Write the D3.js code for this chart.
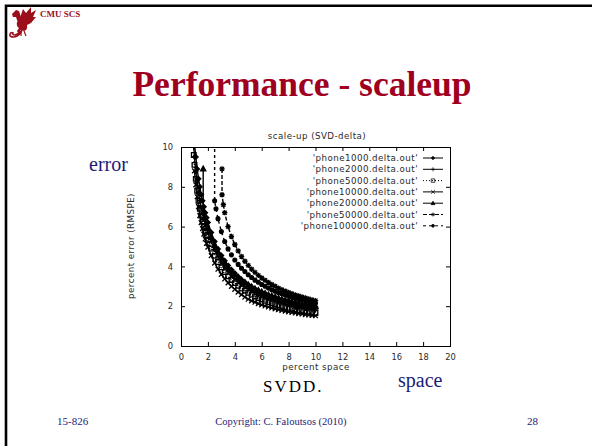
<!DOCTYPE html>
<html>
<head>
<meta charset="utf-8">
<script src="https://cdn.jsdelivr.net/npm/d3@7"></script>
<style>
  body { margin: 0; background: #fff; }
</style>
</head>
<body>
<script>
// legend labels, in plot order
const seriesNames = [
  "'phone1000.delta.out'",
  "'phone2000.delta.out'",
  "'phone5000.delta.out'",
  "'phone10000.delta.out'",
  "'phone20000.delta.out'",
  "'phone50000.delta.out'",
  "'phone100000.delta.out'"
];

// [percent space, percent error]
const phone1000 = [[1.0,10.2],[1.1,9.5],[1.2,8.9],[1.3,8.4],[1.4,8.0],[1.5,7.6],[1.6,7.3],[1.7,7.0],[1.8,6.7],[1.9,6.45],[2.0,6.2],[2.25,5.7],[2.5,5.25],[2.75,4.88],[3.0,4.55],[3.25,4.28],[3.5,4.04],[3.75,3.83],[4.0,3.65],[4.25,3.48],[4.5,3.33],[4.75,3.2],[5.0,3.08],[5.25,2.97],[5.5,2.87],[5.75,2.78],[6.0,2.7],[6.25,2.62],[6.5,2.55],[6.75,2.49],[7.0,2.43],[7.25,2.37],[7.5,2.32],[7.75,2.27],[8.0,2.23],[8.25,2.19],[8.5,2.15],[8.75,2.11],[9.0,2.08],[9.25,2.05],[9.5,2.02],[9.75,1.99],[10.0,1.96]];
const phone2000 = [[0.95,10.0],[1.0,9.5],[1.1,8.8],[1.2,8.2],[1.3,7.7],[1.4,7.3],[1.5,6.95],[1.6,6.65],[1.7,6.37],[1.8,6.12],[1.9,5.9],[2.0,5.7],[2.25,5.25],[2.5,4.85],[2.75,4.52],[3.0,4.23],[3.25,3.98],[3.5,3.76],[3.75,3.57],[4.0,3.4],[4.25,3.25],[4.5,3.11],[4.75,2.99],[5.0,2.88],[5.25,2.78],[5.5,2.69],[5.75,2.6],[6.0,2.53],[6.25,2.46],[6.5,2.39],[6.75,2.33],[7.0,2.27],[7.25,2.22],[7.5,2.17],[7.75,2.12],[8.0,2.08],[8.25,2.04],[8.5,2.0],[8.75,1.96],[9.0,1.93],[9.25,1.9],[9.5,1.87],[9.75,1.84],[10.0,1.81]];
const phone5000 = [[0.95,9.6],[1.0,9.1],[1.1,8.4],[1.2,7.8],[1.3,7.3],[1.4,6.9],[1.5,6.55],[1.6,6.25],[1.7,5.98],[1.8,5.74],[1.9,5.52],[2.0,5.33],[2.25,4.9],[2.5,4.53],[2.75,4.22],[3.0,3.95],[3.25,3.71],[3.5,3.5],[3.75,3.32],[4.0,3.16],[4.25,3.02],[4.5,2.89],[4.75,2.78],[5.0,2.67],[5.25,2.58],[5.5,2.49],[5.75,2.41],[6.0,2.34],[6.25,2.27],[6.5,2.21],[6.75,2.15],[7.0,2.1],[7.25,2.05],[7.5,2.0],[7.75,1.96],[8.0,1.92],[8.25,1.88],[8.5,1.84],[8.75,1.81],[9.0,1.78],[9.25,1.75],[9.5,1.72],[9.75,1.69],[10.0,1.66]];
const phone10000 = [[1.0,8.8],[1.1,8.1],[1.2,7.5],[1.3,7.0],[1.4,6.55],[1.5,6.2],[1.6,5.9],[1.7,5.62],[1.8,5.38],[1.9,5.16],[2.0,4.97],[2.25,4.54],[2.5,4.17],[2.75,3.86],[3.0,3.6],[3.25,3.37],[3.5,3.17],[3.75,3.0],[4.0,2.85],[4.25,2.71],[4.5,2.58],[4.75,2.46],[5.0,2.35],[5.25,2.27],[5.5,2.2],[5.75,2.13],[6.0,2.07],[6.25,2.01],[6.5,1.96],[6.75,1.91],[7.0,1.87],[7.25,1.83],[7.5,1.79],[7.75,1.75],[8.0,1.72],[8.25,1.69],[8.5,1.66],[8.75,1.63],[9.0,1.61],[9.25,1.58],[9.5,1.56],[9.75,1.54],[10.0,1.52]];
const phone20000 = [[1.65,8.9],[1.65,6.7],[1.75,6.45],[1.9,6.1],[2.0,5.9],[2.25,5.45],[2.5,5.05],[2.75,4.72],[3.0,4.43],[3.25,4.18],[3.5,3.96],[3.75,3.77],[4.0,3.6],[4.25,3.45],[4.5,3.31],[4.75,3.19],[5.0,3.08],[5.25,2.98],[5.5,2.88],[5.75,2.8],[6.0,2.72],[6.25,2.65],[6.5,2.58],[6.75,2.52],[7.0,2.46],[7.25,2.4],[7.5,2.35],[7.75,2.3],[8.0,2.26],[8.25,2.22],[8.5,2.18],[8.75,2.14],[9.0,2.1],[9.25,2.07],[9.5,2.04],[9.75,2.01],[10.0,1.98]];
const phone50000 = [[3.05,8.9],[3.05,7.6],[3.15,7.1],[3.25,6.7],[3.5,6.0],[3.75,5.5],[4.0,5.1],[4.25,4.78],[4.5,4.5],[4.75,4.26],[5.0,4.05],[5.25,3.86],[5.5,3.7],[5.75,3.55],[6.0,3.42],[6.25,3.3],[6.5,3.19],[6.75,3.09],[7.0,3.0],[7.25,2.91],[7.5,2.83],[7.75,2.76],[8.0,2.69],[8.25,2.63],[8.5,2.57],[8.75,2.51],[9.0,2.46],[9.25,2.41],[9.5,2.36],[9.75,2.32],[10.0,2.28]];
const phone100000 = [[2.5,10.5],[2.5,7.3],[2.6,6.9],[2.75,6.4],[3.0,5.75],[3.25,5.25],[3.5,4.88],[3.75,4.58],[4.0,4.32],[4.25,4.1],[4.5,3.91],[4.75,3.74],[5.0,3.58],[5.25,3.44],[5.5,3.31],[5.75,3.2],[6.0,3.09],[6.25,3.0],[6.5,2.91],[6.75,2.83],[7.0,2.75],[7.25,2.68],[7.5,2.62],[7.75,2.56],[8.0,2.5],[8.25,2.45],[8.5,2.4],[8.75,2.35],[9.0,2.31],[9.25,2.27],[9.5,2.23],[9.75,2.19],[10.0,2.15]];

const xTicks = [0,2,4,6,8,10,12,14,16,18,20];
const yTicks = [0,2,4,6,8,10];

const allSeries = [phone1000, phone2000, phone5000, phone10000, phone20000, phone50000, phone100000];

// gnuplot-ish line and point styles
const dashes = [null, null, "1,2", null, null, "4,2", "3,3"];
const markers = [
  "M0,-2.3L2.3,0L0,2.3L-2.3,0Z",                 // diamond
  "M-2.7,0H2.7M0,-2.7V2.7",                      // plus
  "M-2.3,-2.3H2.3V2.3H-2.3Z",                    // box
  "M-2.4,-2.4L2.4,2.4M-2.4,2.4L2.4,-2.4",        // cross
  "M0,-2.7L2.6,1.9H-2.6Z",                       // triangle
  "M-2.7,0H2.7M0,-2.7V2.7M-2,-2L2,2M-2,2L2,-2",  // star
  "M-1.9,0A1.9,1.9 0 1,0 1.9,0A1.9,1.9 0 1,0 -1.9,0Z" // dot
];
const filledMarker = [true, false, false, false, true, false, true];

const W = 592, H = 446;
const svg = d3.select("body").append("svg")
  .attr("width", W)
  .attr("height", H);

svg.append("rect").attr("width", W).attr("height", H).attr("fill", "#fff");

// slide frame
svg.append("path")
  .attr("d", "M6,446V5.8H592")
  .attr("fill", "none")
  .attr("stroke", "#000")
  .attr("stroke-width", 2.6);

// CMU logo (rough dragon)
const logo = svg.append("g").attr("fill", "#9b0e1a").attr("stroke", "#9b0e1a");
logo.append("path").attr("stroke", "none")
  .attr("d", "M19,21L23,9L26,13L31,7L31,13L36,10L33,17L36,17L31,23L25,26Z");
logo.append("path").attr("stroke", "none")
  .attr("d", "M12,14L16,10L19,11L21,17L22,22L18,23L16,17L13,17Z");
logo.append("path").attr("stroke", "none")
  .attr("d", "M17,22Q23,20 27,25Q28,30 24,31L21,30L18,33L17,31L19,28Q16,26 17,22Z");
logo.append("path").attr("fill", "none").attr("stroke-width", 1.6)
  .attr("d", "M22,30Q20,36 14,37Q9,37 10,34Q11,32 13,33Q12,35 15,35Q19,34 20,31");
logo.append("path").attr("fill", "none").attr("stroke-width", 1.2)
  .attr("d", "M24,31L26,36M21,31L21,36");

svg.append("text")
  .attr("x", 40).attr("y", 17)
  .attr("font-family", "Liberation Serif")
  .attr("font-weight", "bold")
  .attr("font-size", 9)
  .attr("fill", "#9b0e1a")
  .text("CMU SCS");

svg.append("text")
  .attr("x", 302).attr("y", 96)
  .attr("text-anchor", "middle")
  .attr("font-family", "Liberation Serif")
  .attr("font-weight", "bold")
  .attr("font-size", 35.5)
  .attr("fill", "#a0001f")
  .text("Performance - scaleup");

// chart
const x = d3.scaleLinear().domain([0, 20]).range([181, 450]);
const y = d3.scaleLinear().domain([0, 10]).range([346, 147]);

const chartFont = "DejaVu Sans";
const chartInk = "#2a2a2a";
const chartSpacing = 0.45;

svg.append("defs").append("clipPath").attr("id", "plotclip")
  .append("rect")
  .attr("x", x(0)).attr("y", y(10))
  .attr("width", x(20) - x(0)).attr("height", y(0) - y(10));

function styleAxis(g) {
  g.select(".domain").remove();
  g.selectAll("line").attr("stroke", "#000");
  g.selectAll("text")
    .attr("font-family", chartFont)
    .attr("font-size", 8.3)
    .attr("fill", chartInk);
}

svg.append("g")
  .attr("transform", `translate(0,${y(0)})`)
  .call(d3.axisBottom(x).tickValues(xTicks).tickSize(-4).tickPadding(8))
  .call(styleAxis);
svg.append("g")
  .attr("transform", `translate(0,${y(10)})`)
  .call(d3.axisTop(x).tickValues(xTicks).tickSize(-4).tickFormat(""))
  .call(styleAxis);
svg.append("g")
  .attr("transform", `translate(${x(0)},0)`)
  .call(d3.axisLeft(y).tickValues(yTicks).tickSize(-4).tickPadding(8))
  .call(styleAxis);
svg.append("g")
  .attr("transform", `translate(${x(20)},0)`)
  .call(d3.axisRight(y).tickValues(yTicks).tickSize(-4).tickFormat(""))
  .call(styleAxis);

svg.append("rect")
  .attr("x", x(0) + 0.5).attr("y", y(10) + 0.5)
  .attr("width", x(20) - x(0)).attr("height", y(0) - y(10))
  .attr("fill", "none")
  .attr("stroke", "#000");

svg.append("text")
  .attr("x", 317).attr("y", 139)
  .attr("text-anchor", "middle")
  .attr("font-family", chartFont).attr("font-size", 8.7)
  .attr("letter-spacing", chartSpacing)
  .attr("fill", chartInk)
  .text("scale-up (SVD-delta)");

svg.append("text")
  .attr("x", 316).attr("y", 370)
  .attr("text-anchor", "middle")
  .attr("font-family", chartFont).attr("font-size", 8.7)
  .attr("letter-spacing", chartSpacing)
  .attr("fill", chartInk)
  .text("percent space");

svg.append("text")
  .attr("transform", "translate(134,246) rotate(-90)")
  .attr("text-anchor", "middle")
  .attr("font-family", chartFont).attr("font-size", 8.7)
  .attr("letter-spacing", chartSpacing)
  .attr("fill", chartInk)
  .text("percent error (RMSPE)");

const line = d3.line()
  .x(d => x(d[0]))
  .y(d => y(d[1]));

const plot = svg.append("g").attr("clip-path", "url(#plotclip)");

allSeries.forEach(function(data, i) {
  plot.append("path")
    .datum(data)
    .attr("fill", "none")
    .attr("stroke", "#000")
    .attr("stroke-width", 1.4)
    .attr("stroke-dasharray", dashes[i])
    .attr("d", line);

  plot.selectAll(null)
    .data(data)
    .enter().append("path")
    .attr("transform", d => `translate(${x(d[0])},${y(d[1])})`)
    .attr("d", markers[i])
    .attr("fill", filledMarker[i] ? "#000" : "none")
    .attr("stroke", "#000")
    .attr("stroke-width", 1.3);
});

// legend
const legend = svg.append("g");
seriesNames.forEach(function(name, i) {
  const ly = 158 + i * 11.3;
  legend.append("text")
    .attr("x", 418).attr("y", ly + 3)
    .attr("text-anchor", "end")
    .attr("font-family", chartFont).attr("font-size", 8.7)
    .attr("letter-spacing", chartSpacing)
    .attr("fill", chartInk)
    .text(name);
  legend.append("line")
    .attr("x1", 423).attr("x2", 443)
    .attr("y1", ly).attr("y2", ly)
    .attr("stroke", "#000")
    .attr("stroke-dasharray", dashes[i]);
  legend.append("path")
    .attr("transform", `translate(433,${ly}) scale(0.75)`)
    .attr("d", markers[i])
    .attr("fill", filledMarker[i] ? "#000" : "none")
    .attr("stroke", "#000")
    .attr("stroke-width", 1);
});

// slide annotations
const navy = "#1c1c78";
svg.append("text")
  .attr("x", 89).attr("y", 171)
  .attr("font-family", "Liberation Serif").attr("font-size", 20)
  .attr("fill", navy)
  .text("error");
svg.append("text")
  .attr("x", 398).attr("y", 387)
  .attr("font-family", "Liberation Serif").attr("font-size", 20)
  .attr("fill", navy)
  .text("space");
svg.append("text")
  .attr("x", 263).attr("y", 392)
  .attr("font-family", "Liberation Serif").attr("font-size", 17)
  .attr("letter-spacing", 2)
  .attr("fill", "#000")
  .text("SVDD.");

// footer
svg.append("text")
  .attr("x", 57).attr("y", 425)
  .attr("font-family", "Liberation Serif").attr("font-size", 11)
  .attr("fill", navy)
  .text("15-826");
svg.append("text")
  .attr("x", 281).attr("y", 425)
  .attr("text-anchor", "middle")
  .attr("font-family", "Liberation Serif").attr("font-size", 10.5)
  .attr("fill", navy)
  .text("Copyright: C. Faloutsos (2010)");
svg.append("text")
  .attr("x", 527).attr("y", 425)
  .attr("font-family", "Liberation Serif").attr("font-size", 11)
  .attr("fill", navy)
  .text("28");
</script>
</body>
</html>
